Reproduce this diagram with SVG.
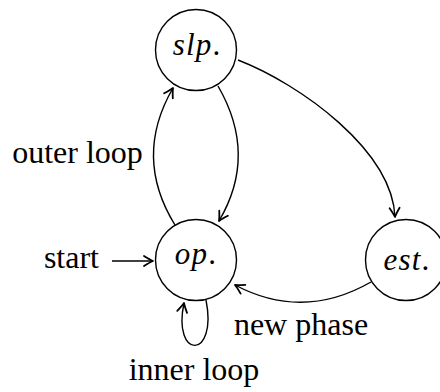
<svg xmlns="http://www.w3.org/2000/svg" width="440" height="392" viewBox="0 0 440 392">
<defs>
<style>
.node{fill:#fff;stroke:#000;stroke-width:1.4}
.edge{fill:none;stroke:#000;stroke-width:1.4;marker-end:url(#arr)}
.lab{font-family:'Liberation Serif','Times New Roman',serif;font-size:32px;fill:#000}
.nl{font-family:'Liberation Serif','Times New Roman',serif;font-size:31px;font-style:italic;letter-spacing:1.2px;fill:#000;text-anchor:middle}
.up{font-style:normal}
</style>
<marker id="arr" markerWidth="14" markerHeight="14" refX="0" refY="0" viewBox="-11 -7 13 14" orient="auto" markerUnits="userSpaceOnUse">
<path d="M-9,-5 Q-3,-1.2 0,0 Q-3,1.2 -9,5" fill="none" stroke="#000" stroke-width="1.8" stroke-linecap="round" stroke-linejoin="round"/>
</marker>
</defs>
<g id="edges">
<path class="edge" d="M218,86 Q258,155 219,221"/>
<path class="edge" d="M175,225 Q133,157 173,88"/>
<path class="edge" d="M238,60 C300,84 392,150 395,217"/>
<path class="edge" d="M371,282 Q303,321 235,285"/>
<path class="edge" d="M112,261 L153,261"/>
<path class="edge" d="M206,300 C218,360 172,360 184,303"/>
</g>
<g id="slp">
<circle class="node" cx="196" cy="50" r="40.5"/>
<text class="nl" x="197" y="55">slp<tspan class="up">.</tspan></text>
</g>
<g id="op">
<circle class="node" cx="196" cy="260" r="40.5"/>
<text class="nl" x="196" y="264">op<tspan class="up">.</tspan></text>
</g>
<g id="est">
<circle class="node" cx="406" cy="260" r="40.5"/>
<text class="nl" x="407" y="270">est<tspan class="up">.</tspan></text>
</g>
<g id="labels">
<text class="lab" x="77.5" y="163" text-anchor="middle">outer loop</text>
<text class="lab" x="99" y="268" text-anchor="end">start</text>
<text class="lab" x="301" y="335" text-anchor="middle">new phase</text>
<text class="lab" x="194" y="380" text-anchor="middle">inner loop</text>
</g>
</svg>
